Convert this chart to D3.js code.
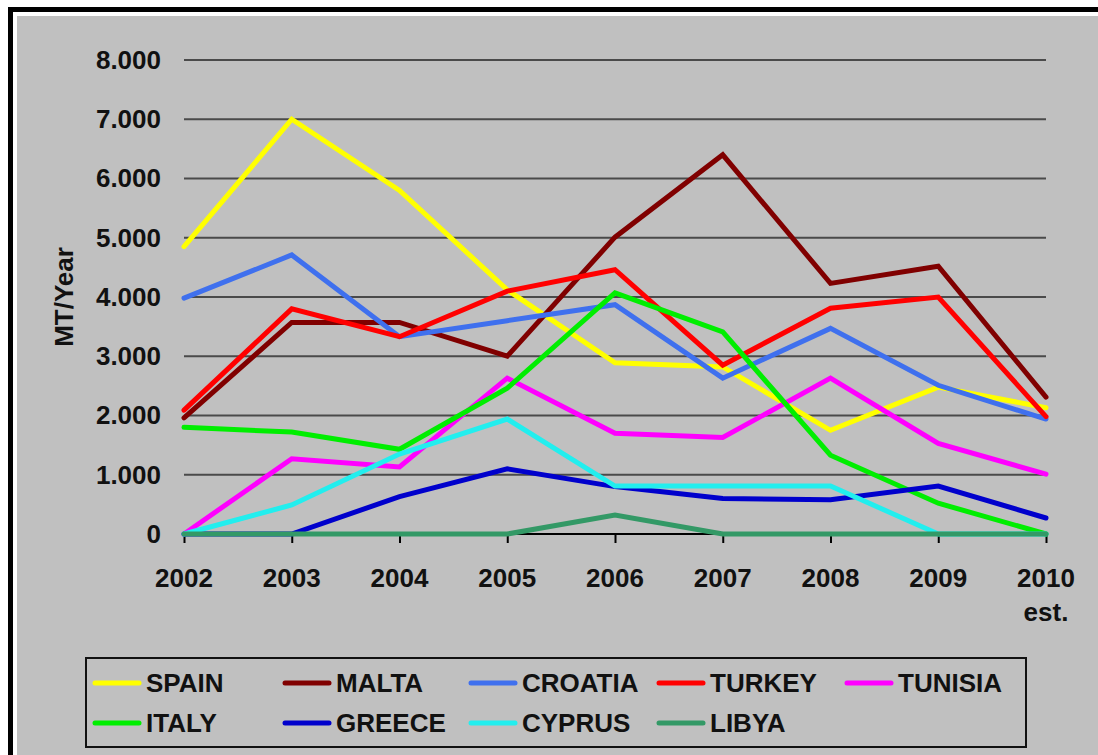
<!DOCTYPE html>
<html>
<head>
<meta charset="utf-8">
<script src="https://cdn.jsdelivr.net/npm/d3@7/dist/d3.min.js"></script>
<style>
  html, body { margin: 0; padding: 0; background: #ffffff; }
  svg { display: block; }
  text { font-family: "Liberation Sans", Arial, sans-serif; font-weight: bold; fill: #111; }
</style>
</head>
<body>
<svg id="chart" width="1098" height="755"></svg>
<script>
// Annual catch per country, MT/Year
const years = ["2002", "2003", "2004", "2005", "2006", "2007", "2008", "2009", "2010"];
const yearLabels = [["2002"], ["2003"], ["2004"], ["2005"], ["2006"], ["2007"], ["2008"], ["2009"], ["2010", "est."]];
const yTicks = [0, 1000, 2000, 3000, 4000, 5000, 6000, 7000, 8000];

const countries = ["SPAIN", "MALTA", "CROATIA", "TURKEY", "TUNISIA", "ITALY", "GREECE", "CYPRUS", "LIBYA"];
const colors = ["#ffff00", "#800000", "#3f70ee", "#ff0000", "#ff00ff", "#00ee00", "#0000cc", "#22eeee", "#339966"];

const spain   = [4850, 7000, 5800, 4120, 2890, 2820, 1750, 2480, 2130];
const malta   = [1960, 3570, 3570, 3000, 5010, 6400, 4230, 4520, 2310];
const croatia = [3980, 4710, 3330, 3600, 3870, 2630, 3470, 2510, 1940];
const turkey  = [2090, 3800, 3330, 4100, 4460, 2850, 3810, 4000, 1980];
const tunisia = [0, 1270, 1130, 2630, 1700, 1630, 2630, 1530, 1010];
const italy   = [1800, 1720, 1430, 2460, 4070, 3410, 1330, 520, 0];
const greece  = [0, 0, 630, 1100, 800, 600, 580, 810, 270];
const cyprus  = [0, 490, 1350, 1940, 810, 810, 810, 0, 0];
const libya   = [0, 0, 0, 0, 320, 0, 0, 0, 0];

const seriesValues = [spain, malta, croatia, turkey, tunisia, italy, greece, cyprus, libya];

const svg = d3.select("#chart");
const W = 1098, H = 755;

// Frame: black outline, thin white strip, grey panel
svg.append("rect").attr("x", 0).attr("y", 0).attr("width", W).attr("height", H).attr("fill", "#ffffff");
svg.append("rect").attr("x", 8).attr("y", 7).attr("width", W).attr("height", H).attr("fill", "#000000");
svg.append("rect").attr("x", 13).attr("y", 12).attr("width", W).attr("height", H).attr("fill", "#ffffff");
svg.append("rect").attr("x", 17).attr("y", 16).attr("width", W).attr("height", H).attr("fill", "#c0c0c0");

const plot = { left: 184, right: 1046, top: 60, bottom: 534 };

const x = d3.scalePoint().domain(years).range([plot.left, plot.right]);
const y = d3.scaleLinear().domain([0, 8000]).range([plot.bottom, plot.top]);

const locale = d3.formatLocale({ decimal: ",", thousands: ".", grouping: [3], currency: ["", ""] });
const fmt = locale.format(",");

// Horizontal gridlines
svg.append("g")
  .selectAll("line")
  .data(yTicks.filter(d => d > 0))
  .join("line")
  .attr("x1", plot.left).attr("x2", plot.right)
  .attr("y1", d => y(d)).attr("y2", d => y(d))
  .attr("stroke", "#4a4a4a").attr("stroke-width", 2);

// Y axis labels
const yAxis = svg.append("g")
  .attr("transform", `translate(${plot.left},0)`)
  .call(d3.axisLeft(y).tickValues(yTicks).tickFormat(fmt).tickSize(0).tickPadding(23));
yAxis.select(".domain").remove();
yAxis.selectAll("text")
  .attr("font-family", "Liberation Sans, Arial, sans-serif")
  .attr("font-weight", "bold")
  .attr("font-size", 26)
  .attr("fill", "#111");

// X axis
const xAxis = svg.append("g")
  .attr("transform", `translate(0,${plot.bottom})`)
  .call(d3.axisBottom(x).tickSize(9).tickFormat(""));
xAxis.select(".domain").attr("stroke", "#000").attr("stroke-width", 2)
  .attr("d", `M${plot.left},0H${plot.right}`);
xAxis.selectAll(".tick line").attr("stroke", "#000").attr("stroke-width", 2);

const xl = svg.append("g");
years.forEach((yr, i) => {
  const t = xl.append("text")
    .attr("x", x(yr)).attr("y", 587)
    .attr("text-anchor", "middle")
    .attr("font-size", 26);
  yearLabels[i].forEach((s, j) => {
    t.append("tspan").attr("x", x(yr)).attr("dy", j === 0 ? 0 : 34).text(s);
  });
});

// Y axis title
svg.append("text")
  .attr("transform", "translate(73,297) rotate(-90)")
  .attr("text-anchor", "middle")
  .attr("font-size", 26)
  .text("MT/Year");

// Series lines
const line = d3.line()
  .x((d, i) => x(years[i]))
  .y(d => y(d));

svg.append("g")
  .selectAll("path")
  .data(seriesValues)
  .join("path")
  .attr("d", d => line(d))
  .attr("fill", "none")
  .attr("stroke", (d, i) => colors[i])
  .attr("stroke-width", 5)
  .attr("stroke-linejoin", "miter")
  .attr("stroke-linecap", "round");

// Legend
const legend = svg.append("g");
legend.append("rect")
  .attr("x", 86).attr("y", 658).attr("width", 940).attr("height", 89)
  .attr("fill", "none").attr("stroke", "#111").attr("stroke-width", 2);

const colX = [95, 285, 471, 659, 847];
const rowY = [683, 723];
countries.forEach((c, i) => {
  const cx = colX[i % 5], cy = rowY[Math.floor(i / 5)];
  legend.append("line")
    .attr("x1", cx).attr("x2", cx + 44)
    .attr("y1", cy).attr("y2", cy)
    .attr("stroke", colors[i]).attr("stroke-width", 5).attr("stroke-linecap", "round");
  legend.append("text")
    .attr("x", cx + 51).attr("y", cy)
    .attr("dominant-baseline", "central")
    .attr("font-size", 26)
    .text(c);
});
</script>
</body>
</html>
